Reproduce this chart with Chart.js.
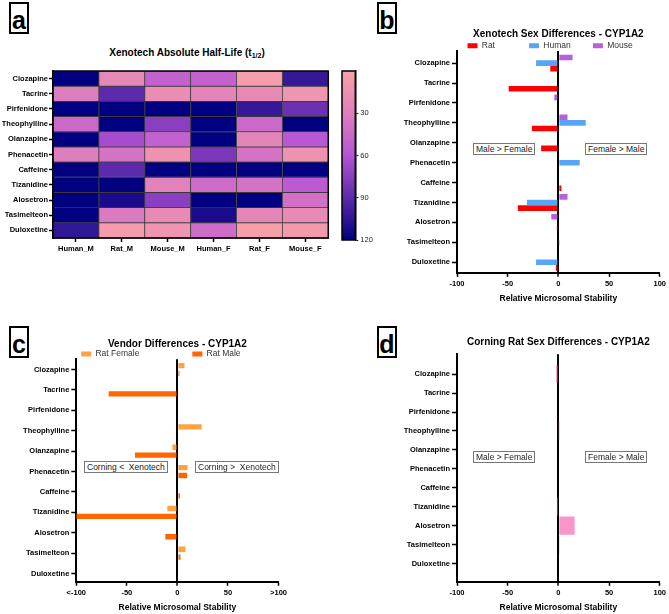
<!DOCTYPE html>
<html><head><meta charset="utf-8">
<script src="https://cdn.jsdelivr.net/npm/chart.js@4.4.1/dist/chart.umd.min.js"></script>
<style>
html,body{margin:0;padding:0;background:#fff;}
body{width:669px;height:614px;position:relative;overflow:hidden;font-family:"Liberation Sans",Arial,sans-serif;}
canvas{position:absolute;}
.letter{position:absolute;border:2px solid #000;width:16px;height:28px;font:bold 25px "Liberation Sans",Arial,sans-serif;text-align:center;line-height:32px;color:#000;}
.note{position:absolute;border:1px solid #777;font:8.5px "Liberation Sans",Arial,sans-serif;color:#222;padding:0 2px;line-height:10px;white-space:pre;background:#fff;}
.htitle{position:absolute;left:-13px;width:400px;top:47px;text-align:center;font:bold 10px "Liberation Sans",Arial,sans-serif;line-height:12px;color:#000;}
.htitle sub{font-size:7px;line-height:0;vertical-align:-2px;}
</style>
</head><body>
<div class="letter" style="left:9px;top:2px;">a</div>
<div class="letter" style="left:377px;top:2px;">b</div>
<div class="letter" style="left:9px;top:326px;">c</div>
<div class="letter" style="left:377px;top:326px;">d</div>
<div class="htitle">Xenotech Absolute Half-Life (t<sub>1/2</sub>)</div>
<canvas id="ca" width="335" height="195" style="left:0;top:60px;"></canvas>
<canvas id="ccb" width="50" height="195" style="left:335px;top:60px;"></canvas>
<canvas id="cb" width="329" height="295" style="left:340px;top:10px;"></canvas>
<canvas id="cc" width="290" height="294" style="left:0;top:320px;"></canvas>
<canvas id="cd" width="329" height="284" style="left:340px;top:330px;"></canvas>
<div class="note" style="left:473px;top:143px;">Male &gt; Female</div>
<div class="note" style="left:585px;top:143px;">Female &gt; Male</div>
<div class="note" style="left:84px;top:461px;">Corning &lt;  Xenotech</div>
<div class="note" style="left:195px;top:461px;">Corning &gt;  Xenotech</div>
<div class="note" style="left:473px;top:451px;">Male &gt; Female</div>
<div class="note" style="left:585px;top:451px;">Female &gt; Male</div>
<script>
// ---------- DATA ----------
const drugs = ['Clozapine','Tacrine','Pirfenidone','Theophylline','Olanzapine','Phenacetin','Caffeine','Tizanidine','Alosetron','Tasimelteon','Duloxetine'];
const groups = ['Human_M','Rat_M','Mouse_M','Human_F','Rat_F','Mouse_F'];
// Panel a: Xenotech absolute half-life (min), one array per column (>=120 shown as 120)
const humanM = [120, 30, 120, 45, 120, 30, 120, 120, 120, 120, 104];
const ratM   = [ 22, 90, 120, 120, 65, 38,  90, 120, 112,  33,   6];
const mouseM = [ 50, 18, 120, 75,  50, 13, 120,  27,  75,  20,  12];
const humanF = [ 50, 25, 120, 120, 120, 80, 120, 42, 120, 112,  42];
const ratF   = [  5, 20, 103, 45,  25, 38, 120,  38, 120,  24,   3];
const mouseF = [103, 12,  85, 120, 57, 13, 120,  55,  40,  20,   8];
const colorbarTicks = [30, 60, 90, 120];
const colorbarMin = 0, colorbarMax = 120;
// Panel b: Xenotech sex differences (relative microsomal stability)
const mouseB = [14, 0, -4, 9, 0, 1, 0, 9, -7, 0, -1];
const humanB = [-22, 0, 0, 27, 0, 21, 0, -31, 0, 0.5, -22];
const ratB   = [-8, -49, -1, -26, -17, 1, 3, -40, -1.5, -1, -2.5];
// Panel c: vendor differences (Corning vs Xenotech)
const ratFemaleC = [7, -1, 0, 24, -5, 10, 0, -10, 0, 8, 0];
const ratMaleC   = [2, -68, 0, 1, -42, 9.5, 2.5, -100, -12, 3, 0];
// Panel d: Corning rat sex differences
const corningRatD = [-2.2, 0, 0, 0.5, 1, 0, 0, -1.5, 16, 0.7, 0];
const stabilityTicks = [-100, -50, 0, 50, 100];

// ---------- STYLE ----------
Chart.defaults.font.family = '"Liberation Sans", Arial, Helvetica, sans-serif';
Chart.defaults.color = '#000';
const cmapStops = [[0,'#f9a3a6'],[30,'#de7fbd'],[60,'#b653d6'],[90,'#5c2aaa'],[120,'#000080']];
function hex(c){return [parseInt(c.substr(1,2),16),parseInt(c.substr(3,2),16),parseInt(c.substr(5,2),16)];}
function cmap(v){
  v = Math.max(colorbarMin, Math.min(colorbarMax, v));
  for (let i=0;i<cmapStops.length-1;i++){
    const [v0,c0]=cmapStops[i],[v1,c1]=cmapStops[i+1];
    if (v<=v1){const t=(v-v0)/(v1-v0);const a=hex(c0),b=hex(c1);
      return 'rgb('+a.map((x,k)=>Math.round(x+(b[k]-x)*t)).join(',')+')';}
  }
  return cmapStops[cmapStops.length-1][1];
}
const framePlugin = {id:'frame', afterDatasetsDraw(chart){const {ctx,chartArea:a}=chart;ctx.save();ctx.strokeStyle='#000';ctx.lineWidth=1.5;ctx.strokeRect(a.left,a.top,a.width,a.height);ctx.restore();}};
const tickFont = {size:7.5, weight:'bold'};
const pts = arr => arr.map((v,i)=>({x:v, y:i}));

function yAxis(min, max, width){
  return {type:'linear', reverse:true, min, max, offset:false,
    afterBuildTicks: s => { s.ticks = drugs.map((_,i)=>({value:i})); },
    afterFit: s => { s.width = width; },
    ticks:{autoSkip:false, font:tickFont, color:'#000', padding:2, callback: v => drugs[v]},
    grid:{drawOnChartArea:false, tickLength:5, tickColor:'#000', tickWidth:1.5, offset:false},
    border:{color:'#000', width:2}};
}
function xAxis(labelFn){
  return {type:'linear', min:stabilityTicks[0], max:stabilityTicks[stabilityTicks.length-1],
    afterBuildTicks: s => { s.ticks = stabilityTicks.map(v=>({value:v})); },
    ticks:{font:tickFont, color:'#000', padding:3, maxRotation:0, callback: labelFn || (v=>v)},
    grid:{color: c => (c.tick && c.tick.value===0) ? '#000' : 'rgba(0,0,0,0)',
          lineWidth: c => (c.tick && c.tick.value===0) ? 2 : 1,
          tickColor:'#000', tickWidth:1.5, tickLength:4},
    border:{color:'#000', width:2},
    title:{display:true, text:'Relative Microsomal Stability', font:{size:8.5, weight:'bold'}, color:'#000', padding:{top:2,bottom:1}}};
}
function padLegend(gaps){
  return chart => {
    const items = Chart.defaults.plugins.legend.labels.generateLabels(chart);
    items.forEach(it => { it.text = it.text + ' '.repeat(gaps[it.text] || 0); it.lineWidth = 0; });
    return items;
  };
}

// ---------- PANEL A: heatmap ----------
const columns = [humanM, ratM, mouseM, humanF, ratF, mouseF];
new Chart(document.getElementById('ca'), {
  type:'bar',
  data:{labels:groups, datasets: drugs.map((d,r)=>({
    label:d, data: groups.map(()=>[r, r+1]),
    backgroundColor: columns.map(col=>cmap(col[r])),
    borderColor:'rgba(45,40,45,0.85)', borderWidth:0.8, borderSkipped:false,
    grouped:false, barPercentage:1, categoryPercentage:1}))},
  options:{responsive:false, animation:false, devicePixelRatio:1,
    layout:{padding:{top:11, right:6.7, bottom:0}},
    plugins:{legend:{display:false}, tooltip:{enabled:false}},
    scales:{
      x:{type:'category', offset:true,
        ticks:{font:tickFont, color:'#000', padding:2, maxRotation:0, autoSkip:false},
        grid:{offset:false, drawOnChartArea:false, tickLength:4, tickColor:'#000', tickWidth:1.5},
        border:{color:'#000', width:1.5}},
      y:{type:'linear', reverse:true, min:0, max:drugs.length,
        afterBuildTicks: s => { s.ticks = drugs.map((_,i)=>({value:i+0.5})); },
        afterFit: s => { s.width = 53; },
        ticks:{autoSkip:false, font:tickFont, color:'#000', padding:1, callback: v => drugs[Math.floor(v)]},
        grid:{drawOnChartArea:false, tickLength:4, tickColor:'#000', tickWidth:1.5},
        border:{color:'#000', width:1.5}}
    }},
  plugins:[framePlugin]
});

// ---------- colour bar ----------
new Chart(document.getElementById('ccb'), {
  type:'bar',
  data:{labels:[''], datasets:[{data:[[colorbarMin, colorbarMax]], borderWidth:0, barPercentage:1, categoryPercentage:1,
    backgroundColor: ctx => {
      const ch = ctx.chart; if (!ch.chartArea) return '#888';
      const y = ch.scales.y;
      const g = ch.ctx.createLinearGradient(0, y.getPixelForValue(colorbarMin), 0, y.getPixelForValue(colorbarMax));
      cmapStops.forEach(([v,c]) => g.addColorStop((v-colorbarMin)/(colorbarMax-colorbarMin), c));
      return g;
    }}]},
  options:{responsive:false, animation:false, devicePixelRatio:1,
    layout:{padding:{left:7, top:11, bottom:15}},
    plugins:{legend:{display:false}, tooltip:{enabled:false}},
    scales:{
      x:{display:false},
      y:{position:'right', type:'linear', reverse:true, min:colorbarMin, max:colorbarMax,
        afterBuildTicks: s => { s.ticks = colorbarTicks.map(v=>({value:v})); },
        afterFit: s => { s.width = 29.7; },
        ticks:{font:{size:7.5}, color:'#222', padding:2},
        grid:{drawOnChartArea:false, tickLength:3, tickColor:'#222', tickWidth:1.2},
        border:{color:'#000', width:1.5}}
    }},
  plugins:[framePlugin]
});

// ---------- PANEL B ----------
new Chart(document.getElementById('cb'), {
  type:'bar',
  data:{datasets:[
    {label:'Mouse', data:pts(mouseB), backgroundColor:'#b95fd9'},
    {label:'Human', data:pts(humanB), backgroundColor:'#56a6f5'},
    {label:'Rat',   data:pts(ratB),   backgroundColor:'#ff0000'}]},
  options:{indexAxis:'y', responsive:false, animation:false, devicePixelRatio:1,
    datasets:{bar:{categoryPercentage:0.85, barPercentage:1, borderWidth:0}},
    layout:{padding:{right:8}},
    plugins:{
      title:{display:true, fullSize:false, text:'Xenotech Sex Differences - CYP1A2', color:'#000',
        font:{size:10, weight:'bold', lineHeight:1}, padding:{top:19.3, bottom:1.2}},
      legend:{display:true, fullSize:false, reverse:true, maxHeight:10.5,
        labels:{boxWidth:10, boxHeight:5, padding:1, font:{size:8.5}, color:'#333',
          generateLabels: padLegend({Rat:14, Human:9, Mouse:7})}},
      tooltip:{enabled:false}},
    scales:{x:xAxis(), y:yAxis(-0.61, 10.53, 117)}}
});

// ---------- PANEL C ----------
new Chart(document.getElementById('cc'), {
  type:'bar',
  data:{datasets:[
    {label:'Rat Female', data:pts(ratFemaleC), backgroundColor:'#ffa242'},
    {label:'Rat Male',   data:pts(ratMaleC),   backgroundColor:'#ff6500'}]},
  options:{indexAxis:'y', responsive:false, animation:false, devicePixelRatio:1,
    datasets:{bar:{categoryPercentage:0.77, barPercentage:0.68, borderWidth:0}},
    layout:{padding:{right:9.3}},
    plugins:{
      title:{display:true, fullSize:false, text:'Vendor Differences - CYP1A2', color:'#000',
        font:{size:10, weight:'bold', lineHeight:1}, padding:{top:18.8, bottom:0}},
      legend:{display:true, fullSize:false, maxHeight:10.5,
        labels:{boxWidth:10, boxHeight:5, padding:1, font:{size:8.5}, color:'#333',
          generateLabels: padLegend({'Rat Female':22, 'Rat Male':14})}},
      tooltip:{enabled:false}},
    scales:{x:xAxis(v => v===-100 ? '<-100' : (v===100 ? '>100' : v)), y:yAxis(-0.5, 10.4, 76.3)}}
});

// ---------- PANEL D ----------
new Chart(document.getElementById('cd'), {
  type:'bar',
  data:{datasets:[{label:'Corning Rat', data:pts(corningRatD), backgroundColor:'#fa95cb'}]},
  options:{indexAxis:'y', responsive:false, animation:false, devicePixelRatio:1,
    datasets:{bar:{categoryPercentage:0.98, barPercentage:0.98, borderWidth:0}},
    layout:{padding:{right:6.7}},
    plugins:{
      title:{display:true, fullSize:false, text:'Corning Rat Sex Differences - CYP1A2', color:'#000',
        font:{size:10, weight:'bold', lineHeight:1}, padding:{top:7.7, bottom:6.6}},
      legend:{display:false}, tooltip:{enabled:false}},
    scales:{x:xAxis(), y:yAxis(-1.05, 10.97, 117)}}
});
</script>
</body></html>
